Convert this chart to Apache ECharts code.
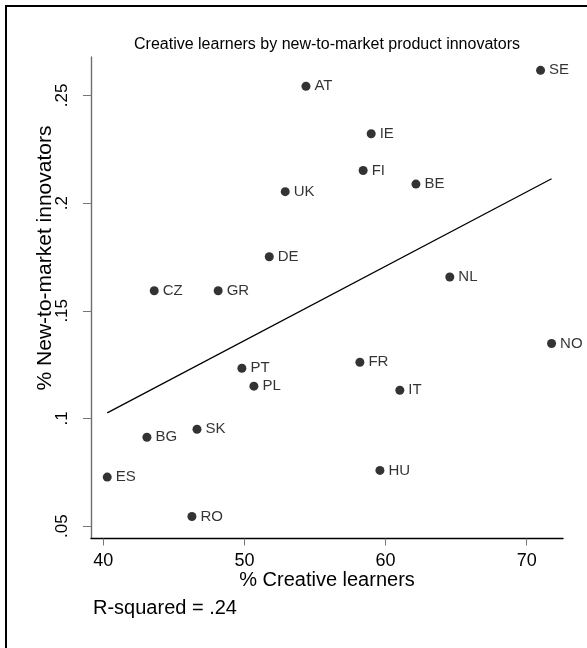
<!DOCTYPE html>
<html>
<head>
<meta charset="utf-8">
<script src="https://cdn.jsdelivr.net/npm/echarts@6/dist/echarts.min.js"></script>
<style>
  html, body { margin: 0; padding: 0; background: #fff; }
  #chart { width: 587px; height: 648px; }
</style>
</head>
<body>
<div id="chart"></div>
<script>
// Country codes and their values
const countries = ['AT', 'SE', 'IE', 'FI', 'BE', 'UK', 'DE', 'CZ', 'GR', 'NL',
                   'NO', 'IT', 'ES', 'RO', 'FR', 'PT', 'PL', 'SK', 'BG', 'HU'];
const creativeLearners = [54.36, 70.98, 58.98, 58.41, 62.15, 52.89, 51.76, 43.61, 48.14, 64.55,
                          71.76, 61.01, 40.28, 46.28, 58.18, 49.82, 50.67, 46.64, 43.09, 59.60];
const newToMarket = [0.2542, 0.2616, 0.2322, 0.2151, 0.2088, 0.2053, 0.1751, 0.1593, 0.1593, 0.1657,
                     0.1348, 0.1131, 0.0728, 0.0545, 0.1261, 0.1233, 0.1150, 0.0950, 0.0913, 0.0759];

// Fitted regression line (ends at the smallest and largest x)
const fitX = [40.28, 71.76];
const fitY = [0.1026, 0.2113];

// Axis tick values
const xTicks = [40, 50, 60, 70];
const yTicks = [0.05, 0.1, 0.15, 0.2, 0.25];

const FONT = '"Liberation Sans", Arial, Helvetica, sans-serif';

const points = countries.map((c, i) => ({ name: c, value: [creativeLearners[i], newToMarket[i]] }));
const fitLine = fitX.map((x, i) => [x, fitY[i]]);

const chart = echarts.init(document.getElementById('chart'), null, { renderer: 'canvas' });

chart.setOption({
  animation: false,
  backgroundColor: '#fff',
  grid: { left: 91, right: 24, top: 57, bottom: 109.5, outerBoundsMode: 'none', containLabel: false },
  xAxis: {
    type: 'value',
    min: 39.13,
    max: 72.57,
    axisLine: { show: true, onZero: false, lineStyle: { color: '#000', width: 1.4 } },
    axisTick: { show: true, length: 7, customValues: xTicks, lineStyle: { color: '#777', width: 1 } },
    axisLabel: {
      customValues: xTicks,
      margin: 14,
      color: '#000',
      fontFamily: FONT,
      fontSize: 18
    },
    splitLine: { show: false }
  },
  yAxis: {
    type: 'value',
    min: 0.0443,
    max: 0.2678,
    axisLine: { show: true, onZero: false, lineStyle: { color: '#6e6e6e', width: 1.4 } },
    axisTick: { show: true, length: 8, customValues: yTicks, lineStyle: { color: '#777', width: 1 } },
    axisLabel: {
      customValues: yTicks,
      rotate: 90,
      margin: 20,
      color: '#000',
      fontFamily: FONT,
      fontSize: 17,
      formatter: v => String(+v.toFixed(2)).replace(/^0/, '')
    },
    splitLine: { show: false }
  },
  series: [
    {
      type: 'line',
      data: fitLine,
      symbol: 'none',
      lineStyle: { color: '#000', width: 1.3 },
      z: 2
    },
    {
      type: 'scatter',
      data: points,
      symbol: 'circle',
      symbolSize: 9,
      itemStyle: { color: '#000' },
      label: {
        show: true,
        position: 'right',
        distance: 4,
        formatter: p => p.name,
        color: '#000',
        fontFamily: FONT,
        fontSize: 15
      },
      z: 3
    }
  ],
  graphic: [
    // frame edges
    { type: 'rect', shape: { x: 5, y: 5, width: 582, height: 2 }, style: { fill: '#000' } },
    { type: 'rect', shape: { x: 5, y: 5, width: 2, height: 643 }, style: { fill: '#000' } },
    {
      type: 'text', x: 327, y: 45,
      style: {
        text: 'Creative learners by new-to-market product innovators',
        font: '16px ' + FONT, fill: '#000',
        align: 'center', verticalAlign: 'middle',
        textAlign: 'center', textVerticalAlign: 'middle'
      }
    },
    {
      type: 'text', x: 45, y: 258, rotation: Math.PI / 2,
      style: {
        text: '% New-to-market innovators',
        font: '21px ' + FONT, fill: '#000',
        align: 'center', verticalAlign: 'middle',
        textAlign: 'center', textVerticalAlign: 'middle'
      }
    },
    {
      type: 'text', x: 327, y: 580,
      style: {
        text: '% Creative learners',
        font: '20px ' + FONT, fill: '#000',
        align: 'center', verticalAlign: 'middle',
        textAlign: 'center', textVerticalAlign: 'middle'
      }
    },
    {
      type: 'text', x: 93, y: 608,
      style: {
        text: 'R-squared = .24',
        font: '20px ' + FONT, fill: '#000',
        align: 'left', verticalAlign: 'middle',
        textAlign: 'left', textVerticalAlign: 'middle'
      }
    }
  ]
});
</script>
</body>
</html>
